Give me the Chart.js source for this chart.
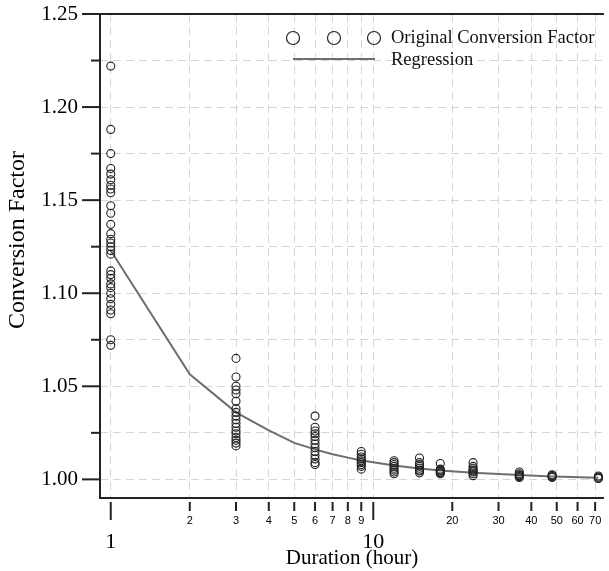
<!DOCTYPE html>
<html>
<head>
<meta charset="utf-8">
<script src="https://cdn.jsdelivr.net/npm/chart.js@4.4.1/dist/chart.umd.min.js"></script>
<style>
  html, body { margin: 0; padding: 0; background: #fff; }
</style>
</head>
<body>
<canvas id="chart" width="609" height="571"></canvas>
<script>
// durations (hour) with observed conversion factors
const durations = [1, 3, 6, 9, 12, 15, 18, 24, 36, 48, 72];
const cf1h = [1.222, 1.188, 1.175, 1.167, 1.164, 1.161, 1.158, 1.156, 1.154, 1.147, 1.143, 1.137,
  1.132, 1.129, 1.127, 1.125, 1.123, 1.121, 1.112, 1.110, 1.108, 1.105, 1.103, 1.100, 1.097,
  1.094, 1.091, 1.089, 1.075, 1.072];
const cf3h = [1.065, 1.055, 1.050, 1.048, 1.046, 1.042, 1.038, 1.036, 1.034, 1.032, 1.030, 1.028,
  1.026, 1.0245, 1.0225, 1.021, 1.0195, 1.018];
const cf6h = [1.034, 1.028, 1.026, 1.0245, 1.023, 1.021, 1.019, 1.017, 1.015, 1.013, 1.011, 1.009, 1.008];
const cf9h = [1.015, 1.0135, 1.012, 1.011, 1.010, 1.009, 1.008, 1.007, 1.0055];
const cf12h = [1.010, 1.009, 1.008, 1.007, 1.006, 1.005, 1.004, 1.003];
const cf15h = [1.0115, 1.009, 1.008, 1.007, 1.006, 1.005, 1.0045, 1.0035];
const cf18h = [1.0085, 1.0055, 1.005, 1.0045, 1.004, 1.0035, 1.003];
const cf24h = [1.009, 1.007, 1.006, 1.005, 1.0045, 1.004, 1.003, 1.002];
const cf36h = [1.004, 1.003, 1.0025, 1.002, 1.0015, 1.001];
const cf48h = [1.0025, 1.002, 1.0015, 1.001];
const cf72h = [1.0018, 1.0012, 1.0008, 1.0005];

// regression curve
const regDuration = [1, 2, 3, 4, 5, 6, 7, 8, 9, 10, 12, 15, 18, 24, 36, 48, 72];
const regFactor = [1.123, 1.0565, 1.036, 1.0263, 1.0196, 1.0161, 1.0135, 1.0117, 1.0102, 1.0092,
  1.0074, 1.0058, 1.0048, 1.0035, 1.0023, 1.0016, 1.0009];

// axis ticks
const xMajorTicks = [1, 10];
const xMinorTicks = [2, 3, 4, 5, 6, 7, 8, 9, 20, 30, 40, 50, 60, 70];
const yTickValues = [1.000, 1.025, 1.050, 1.075, 1.100, 1.125, 1.150, 1.175, 1.200, 1.225, 1.250];

const serif = '"Liberation Serif", "Times New Roman", serif';
const sans = '"Liberation Sans", Arial, sans-serif';

let allFactors = [cf1h, cf3h, cf6h, cf9h, cf12h, cf15h, cf18h, cf24h, cf36h, cf48h, cf72h];
let scatterPoints = [];
durations.forEach((d, i) => {
  allFactors[i].forEach(v => scatterPoints.push({ x: d, y: v }));
});
let regPoints = regDuration.map((d, i) => ({ x: d, y: regFactor[i] }));

let xTickValues = xMajorTicks.concat(xMinorTicks).sort((a, b) => a - b);
function isYMajor(v) { return Math.round(v * 1000) % 50 === 0; }

// box, tick marks, y title and legend
const framePlugin = {
  id: 'frame',
  afterDraw(chart) {
    let ctx = chart.ctx;
    let area = chart.chartArea;
    let xs = chart.scales.x, ys = chart.scales.y;
    ctx.save();
    ctx.strokeStyle = '#222';
    ctx.lineWidth = 2;
    ctx.beginPath();
    ctx.moveTo(area.right, area.top);
    ctx.lineTo(area.left, area.top);
    ctx.lineTo(area.left, area.bottom);
    ctx.lineTo(area.right, area.bottom);
    ctx.stroke();

    yTickValues.forEach(v => {
      let py = ys.getPixelForValue(v);
      let len = isYMajor(v) ? 18 : 9;
      ctx.beginPath();
      ctx.moveTo(area.left - len, py);
      ctx.lineTo(area.left, py);
      ctx.stroke();
    });
    xTickValues.forEach(v => {
      let px = xs.getPixelForValue(v);
      let len = xMajorTicks.includes(v) ? 18 : 9;
      ctx.beginPath();
      ctx.moveTo(px, area.bottom + 4);
      ctx.lineTo(px, area.bottom + 4 + len);
      ctx.stroke();
    });

    // y axis title
    ctx.fillStyle = '#000';
    ctx.font = '24px ' + serif;
    ctx.textAlign = 'center';
    ctx.textBaseline = 'middle';
    ctx.translate(18, area.top + 226);
    ctx.rotate(-Math.PI / 2);
    ctx.fillText('Conversion Factor', 0, 0);
    ctx.setTransform(1, 0, 0, 1, 0, 0);

    // legend
    let lx = area.left + 193, ly = area.top + 24;
    ctx.lineWidth = 1.2;
    ctx.strokeStyle = '#222';
    [0, 41, 81].forEach(dx => {
      ctx.beginPath();
      ctx.arc(lx + dx, ly, 6.5, 0, Math.PI * 2);
      ctx.stroke();
    });
    ctx.strokeStyle = '#6e6e6e';
    ctx.lineWidth = 2;
    ctx.beginPath();
    ctx.moveTo(lx, ly + 21);
    ctx.lineTo(lx + 82, ly + 21);
    ctx.stroke();
    ctx.fillStyle = '#111';
    ctx.font = '18.5px ' + serif;
    ctx.textAlign = 'left';
    ctx.fillText('Original Conversion Factor', lx + 98, ly);
    ctx.fillText('Regression', lx + 98, ly + 22);
    ctx.restore();
  }
};

new Chart(document.getElementById('chart'), {
  type: 'scatter',
  data: {
    datasets: [
      {
        label: 'Original Conversion Factor',
        data: scatterPoints,
        pointStyle: 'circle',
        pointRadius: 4,
        pointBorderWidth: 1.1,
        pointBorderColor: '#222',
        pointBackgroundColor: 'rgba(0,0,0,0)',
        pointHoverRadius: 4
      },
      {
        label: 'Regression',
        data: regPoints,
        showLine: true,
        borderColor: '#6e6e6e',
        borderWidth: 2,
        pointRadius: 0,
        tension: 0
      }
    ]
  },
  options: {
    responsive: false,
    devicePixelRatio: 1,
    animation: false,
    events: [],
    layout: { padding: { top: 14, right: 0, left: 0, bottom: 0 } },
    plugins: { legend: { display: false }, tooltip: { enabled: false } },
    scales: {
      x: {
        type: 'logarithmic',
        min: 0.91,
        max: 75.6,
        afterBuildTicks: scale => { scale.ticks = xTickValues.map(v => ({ value: v })); },
        afterFit: scale => {
          scale.height = 73;
          scale.paddingLeft = 0;
          scale.paddingRight = 0;
        },
        grid: { color: '#d6d6d6', lineWidth: 1, drawTicks: false },
        border: { display: false, dash: [8, 5] },
        ticks: {
          autoSkip: false,
          maxRotation: 0,
          padding: 16,
          color: '#000',
          callback: v => xMajorTicks.includes(v) ? ['', String(v)] : String(v),
          font: c => (c.tick && xMajorTicks.includes(c.tick.value))
            ? { family: serif, size: 22, lineHeight: 0.85 }
            : { family: sans, size: 11, lineHeight: 1.2 }
        },
        title: {
          display: true,
          text: 'Duration (hour)',
          color: '#000',
          font: { family: serif, size: 21 },
          padding: { top: 0, bottom: 0 }
        }
      },
      y: {
        min: 0.99,
        max: 1.25,
        afterBuildTicks: scale => { scale.ticks = yTickValues.map(v => ({ value: v })); },
        afterFit: scale => {
          scale.width = 100;
          scale.paddingTop = 0;
          scale.paddingBottom = 0;
        },
        grid: { color: '#d6d6d6', lineWidth: 1, drawTicks: false },
        border: { display: false, dash: [8, 5] },
        ticks: {
          padding: 22,
          color: '#000',
          font: { family: serif, size: 21 },
          callback: v => isYMajor(v) ? v.toFixed(2) : ''
        },
        title: { display: false }
      }
    }
  },
  plugins: [framePlugin]
});
</script>
</body>
</html>
